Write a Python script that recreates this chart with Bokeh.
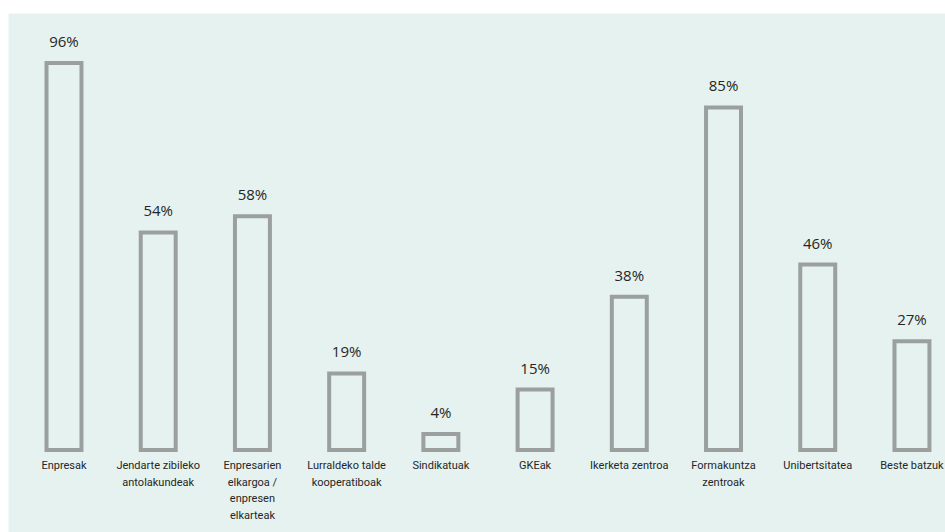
from bokeh.plotting import figure
from bokeh.models import ColumnDataSource, Range1d
from bokeh.core.properties import value
from bokeh.embed import file_html
from bokeh.resources import INLINE

categories = [
    "Enpresak",
    "Jendarte zibileko\nantolakundeak",
    "Enpresarien\nelkargoa /\nenpresen\nelkarteak",
    "Lurraldeko talde\nkooperatiboak",
    "Sindikatuak",
    "GKEak",
    "Ikerketa zentroa",
    "Formakuntza\nzentroak",
    "Unibertsitatea",
    "Beste batzuk",
]
values = [96, 54, 58, 19, 4, 15, 38, 85, 46, 27]
value_labels = [f"{v}%" for v in values]

BG = "#e5f2ef"
BAR = "#9b9f9e"
TXT = "#262626"

src = ColumnDataSource(dict(
    x=list(range(len(categories))),
    top=values,
    zero=[0] * len(values),
    cat=categories,
    lab=value_labels,
))

p = figure(
    width=937, height=519,
    x_range=Range1d(-0.589, 9.356),
    y_range=Range1d(-20.47, 108.31),
    output_backend="svg", toolbar_location=None,
    min_border=0, min_border_left=0, min_border_right=0,
    min_border_top=0, min_border_bottom=0,
    background_fill_color=BG, border_fill_color=BG,
    outline_line_color=None,
)
p.margin = (13, 0, 0, 8)
p.xaxis.visible = False
p.yaxis.visible = False
p.grid.visible = False

p.vbar(x="x", top="top", bottom="zero", width=0.371, source=src,
       fill_color=None, line_color=BAR, line_width=4, line_join="miter")

p.text(x="x", y="top", text="lab", source=src, y_offset=-22,
       text_align="center", text_baseline="middle",
       text_font=value("Open Sans"), text_font_size="15px", text_color=TXT)

p.text(x="x", y="zero", text="cat", source=src, y_offset=9,
       text_align="center", text_baseline="top", text_line_height=1.28,
       text_font=value("Roboto"), text_font_size="11px", text_color=TXT)

open("out.html", "w").write(file_html(p, INLINE))
